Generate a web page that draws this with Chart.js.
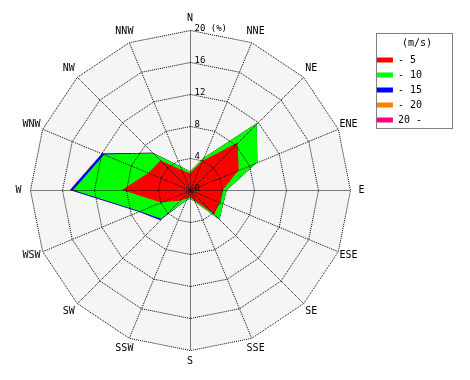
<!DOCTYPE html>
<html>
<head>
<meta charset="utf-8">
<script src="https://cdn.jsdelivr.net/npm/chart.js@4/dist/chart.umd.min.js"></script>
<style>
  html, body { margin: 0; padding: 0; background: #fff; }
</style>
</head>
<body>
<canvas id="rose" width="470" height="380"></canvas>
<script>
// 16 compass sectors, clockwise from north
const directions = ['N', 'NNE', 'NE', 'ENE', 'E', 'ESE', 'SE', 'SSE', 'S', 'SSW', 'SW', 'WSW', 'W', 'WNW', 'NW', 'NNW'];
const speedClasses = ['- 5', '- 10', '- 15', '- 20', '20 -'];

// frequency (%) of each speed class per direction
const freqTo5    = [2.1, 3.9, 8.4, 6.6, 4.1, 4.0, 4.3, 1.4, 0.9, 1.2, 1.9, 4.0, 8.5, 5.6, 5.2, 2.7];
const freq5to10  = [0.2, 0.4, 3.4, 2.5, 0.5, 0.5, 0.9, 0.2, 0.2, 0.3, 3.2, 2.9, 6.1, 6.0, 1.3, 0.5];
const freq10to15 = [0, 0, 0, 0, 0, 0, 0, 0, 0, 0, 0.2, 0.1, 0.4, 0.3, 0.1, 0];
const freq15to20 = [0, 0, 0, 0, 0, 0, 0, 0, 0, 0, 0, 0, 0, 0, 0, 0];
const freqOver20 = [0, 0, 0, 0, 0, 0, 0, 0, 0, 0, 0, 0, 0, 0, 0, 0];

const radialTicks = { min: 0, max: 20, step: 4, unit: '(%)' };
const classColors = ['#ff0000', '#00ff00', '#0000ff', '#ff8000', '#ff0080'];

const MONO = '"DejaVu Sans Mono", monospace';

// rose petals are stacked: each class is drawn out to the running total
const bands = [freqTo5, freq5to10, freq10to15, freq15to20, freqOver20];
const running = directions.map(() => 0);
const datasets = bands.map((band, k) => {
  band.forEach((v, i) => { running[i] += v; });
  return {
    label: speedClasses[k],
    data: running.slice(),
    backgroundColor: classColors[k],
    borderColor: 'transparent',
    borderWidth: 0,
    pointRadius: 0,
    fill: 'origin',
    tension: 0
  };
});

// shift the dotted grid (drawn above the petals) onto pixel centres so it stays crisp
const pixelSnap = {
  id: 'pixelSnap',
  afterDatasetsDraw(chart) {
    chart.ctx.save();
    chart.ctx.translate(0.5, 0.5);
  },
  afterDraw(chart) {
    chart.ctx.restore();
  }
};

// light grey disc under the petals
const plotBackground = {
  id: 'plotBackground',
  beforeDatasetsDraw(chart) {
    const r = chart.scales.r;
    const ctx = chart.ctx;
    ctx.save();
    ctx.beginPath();
    directions.forEach((d, i) => {
      const p = r.getPointPosition(i, r.drawingArea);
      if (i === 0) ctx.moveTo(p.x, p.y); else ctx.lineTo(p.x, p.y);
    });
    ctx.closePath();
    ctx.fillStyle = '#f5f5f5';
    ctx.fill();
    ctx.restore();
  }
};

// compass names around the rim and % labels along the north spoke
const roseLabels = {
  id: 'roseLabels',
  afterDraw(chart) {
    const r = chart.scales.r;
    const ctx = chart.ctx;
    ctx.save();
    ctx.fillStyle = '#000';

    ctx.font = '10px ' + MONO;
    ctx.textAlign = 'center';
    ctx.textBaseline = 'middle';
    chart.data.labels.forEach((name, i) => {
      const p = r.getPointPosition(i, r.drawingArea + 11.5);
      ctx.fillText(name, p.x, p.y);
    });

    ctx.font = '9px ' + MONO;
    ctx.textAlign = 'left';
    ctx.textBaseline = 'alphabetic';
    r.ticks.forEach((t) => {
      const d = r.getDistanceFromCenterForValue(t.value);
      const txt = t.value === radialTicks.max ? t.label + ' ' + radialTicks.unit : t.label;
      ctx.fillText(txt, r.xCenter + 4.5, r.yCenter - d + 0.5);
    });
    ctx.restore();
  }
};

// dotted frame round the legend
const legendFrame = {
  id: 'legendFrame',
  afterDraw(chart) {
    const lg = chart.legend;
    if (!lg || !lg.legendHitBoxes.length) return;
    const last = lg.legendHitBoxes[lg.legendHitBoxes.length - 1];
    const x0 = Math.round(lg.left) + 4.5;
    const y0 = Math.round(lg.top) + 3.5;
    const x1 = x0 + 76;
    const y1 = Math.round(last.top + last.height) + 3.5;
    const ctx = chart.ctx;
    ctx.save();
    ctx.strokeStyle = '#000';
    ctx.lineWidth = 1;
    ctx.setLineDash([1, 1]);
    ctx.strokeRect(x0, y0, x1 - x0, y1 - y0);
    ctx.restore();
  }
};

new Chart(document.getElementById('rose'), {
  type: 'radar',
  data: { labels: directions, datasets },
  options: {
    responsive: false,
    animation: false,
    layout: { padding: { top: 30, bottom: 30, left: 9, right: 38 } },
    plugins: {
      legend: {
        position: 'right',
        align: 'start',
        title: {
          display: true,
          text: '(m/s)',
          position: 'end',
          color: '#000',
          font: { family: MONO, size: 10 },
          padding: { top: 8, bottom: 0 }
        },
        labels: {
          boxWidth: 16,
          boxHeight: 5,
          padding: 5,
          color: '#000',
          font: { family: MONO, size: 10 }
        }
      },
      tooltip: { enabled: false }
    },
    scales: {
      r: {
        min: radialTicks.min,
        max: radialTicks.max,
        ticks: { stepSize: radialTicks.step, display: false },
        grid: { color: '#000', lineWidth: 1, z: 1 },
        border: { dash: [1, 1] },
        angleLines: { color: '#000', lineWidth: 1, borderDash: [1, 1] },
        pointLabels: { display: false }
      }
    }
  },
  plugins: [pixelSnap, plotBackground, roseLabels, legendFrame]
});
</script>
</body>
</html>
